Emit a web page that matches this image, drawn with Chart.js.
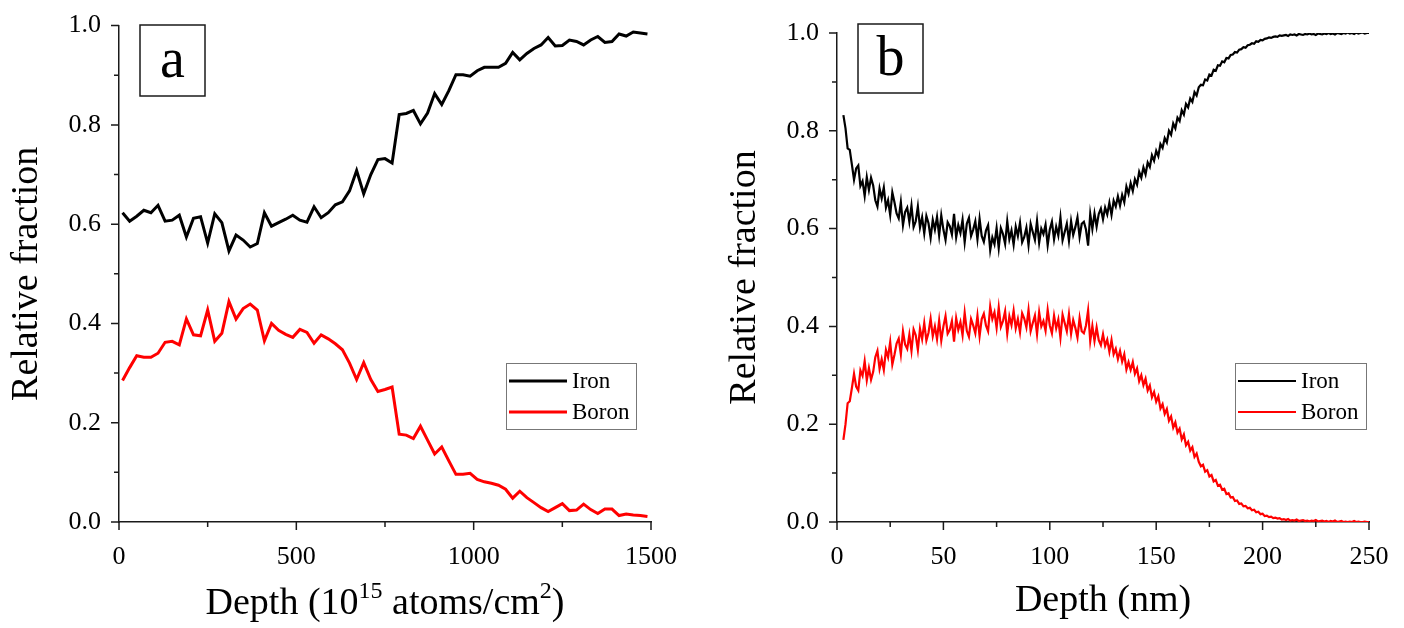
<!DOCTYPE html>
<html>
<head>
<meta charset="utf-8">
<script src="https://cdn.jsdelivr.net/npm/chart.js@4.4.1/dist/chart.umd.min.js"></script>
<style>
  html, body { margin: 0; padding: 0; background: #fff; }
  #wrap { position: relative; width: 1404px; height: 628px; }
  .panel { position: absolute; top: 0; width: 702px; height: 628px; }
</style>
</head>
<body>
<div id="wrap">
  <div class="panel" style="left:0"><canvas id="chartA"></canvas></div>
  <div class="panel" style="left:702px"><canvas id="chartB"></canvas></div>
</div>
<script>

// panel a : depth in 10^15 atoms/cm2
var depthA = [10, 30, 50, 70, 90, 110, 130, 150, 170, 190, 210, 230, 250, 270, 290, 310, 330, 350, 370, 390,
    410, 430, 450, 470, 490, 510, 530, 550, 570, 590, 610, 630, 650, 670, 690, 710, 730, 750, 770, 790,
    810, 830, 850, 870, 890, 910, 930, 950, 970, 990, 1010, 1030, 1050, 1070, 1090, 1110, 1130, 1150, 1170, 1190,
    1210, 1230, 1250, 1270, 1290, 1310, 1330, 1350, 1370, 1390, 1410, 1430, 1450, 1470, 1490];

var ironA = [0.623, 0.606, 0.616, 0.628, 0.623, 0.638, 0.606, 0.608, 0.618, 0.574,
    0.612, 0.615, 0.562, 0.621, 0.603, 0.546, 0.578, 0.568, 0.554, 0.561,
    0.623, 0.596, 0.603, 0.610, 0.618, 0.608, 0.604, 0.635, 0.613, 0.623,
    0.639, 0.645, 0.667, 0.708, 0.661, 0.700, 0.730, 0.732, 0.723, 0.821,
    0.823, 0.829, 0.802, 0.824, 0.863, 0.841, 0.869, 0.901, 0.901, 0.898,
    0.909, 0.916, 0.916, 0.916, 0.924, 0.946, 0.931, 0.944, 0.954, 0.961,
    0.976, 0.959, 0.960, 0.971, 0.968, 0.961, 0.971, 0.978, 0.966, 0.968,
    0.983, 0.979, 0.987, 0.985, 0.983];

var boronA = [0.285, 0.311, 0.335, 0.332, 0.332, 0.340, 0.362, 0.364, 0.357, 0.409,
    0.377, 0.375, 0.427, 0.364, 0.380, 0.444, 0.409, 0.430, 0.439, 0.427,
    0.365, 0.400, 0.386, 0.378, 0.372, 0.388, 0.382, 0.360, 0.377, 0.369,
    0.359, 0.347, 0.320, 0.287, 0.321, 0.287, 0.263, 0.267, 0.272, 0.177,
    0.175, 0.168, 0.193, 0.165, 0.137, 0.151, 0.123, 0.096, 0.096, 0.098,
    0.086, 0.081, 0.078, 0.074, 0.066, 0.048, 0.062, 0.049, 0.039, 0.029,
    0.021, 0.029, 0.037, 0.023, 0.024, 0.036, 0.025, 0.017, 0.026, 0.026,
    0.013, 0.016, 0.014, 0.013, 0.011];

// panel b : depth in nm
var depthB = [3, 4, 5, 6, 7, 8, 9, 10, 11, 12,
    13, 14, 15, 16, 17, 18, 19, 20, 21, 22,
    23, 24, 25, 26, 27, 28, 29, 30, 31, 32,
    33, 34, 35, 36, 37, 38, 39, 40, 41, 42,
    43, 44, 45, 46, 47, 48, 49, 50, 51, 52,
    53, 54, 55, 56, 57, 58, 59, 60, 61, 62,
    63, 64, 65, 66, 67, 68, 69, 70, 71, 72,
    73, 74, 75, 76, 77, 78, 79, 80, 81, 82,
    83, 84, 85, 86, 87, 88, 89, 90, 91, 92,
    93, 94, 95, 96, 97, 98, 99, 100, 101, 102,
    103, 104, 105, 106, 107, 108, 109, 110, 111, 112,
    113, 114, 115, 116, 117, 118, 119, 120, 121, 122,
    123, 124, 125, 126, 127, 128, 129, 130, 131, 132,
    133, 134, 135, 136, 137, 138, 139, 140, 141, 142,
    143, 144, 145, 146, 147, 148, 149, 150, 151, 152,
    153, 154, 155, 156, 157, 158, 159, 160, 161, 162,
    163, 164, 165, 166, 167, 168, 169, 170, 171, 172,
    173, 174, 175, 176, 177, 178, 179, 180, 181, 182,
    183, 184, 185, 186, 187, 188, 189, 190, 191, 192,
    193, 194, 195, 196, 197, 198, 199, 200, 201, 202,
    203, 204, 205, 206, 207, 208, 209, 210, 211, 212,
    213, 214, 215, 216, 217, 218, 219, 220, 221, 222,
    223, 224, 225, 226, 227, 228, 229, 230, 231, 232,
    233, 234, 235, 236, 237, 238, 239, 240, 241, 242,
    243, 244, 245, 246, 247, 248, 249, 250];

var ironB = [0.832, 0.805, 0.764, 0.761, 0.731, 0.700, 0.723, 0.729, 0.687, 0.697,
    0.667, 0.705, 0.679, 0.704, 0.688, 0.658, 0.645, 0.682, 0.662, 0.684,
    0.643, 0.658, 0.628, 0.674, 0.654, 0.631, 0.621, 0.654, 0.607, 0.634,
    0.643, 0.614, 0.647, 0.603, 0.615, 0.645, 0.602, 0.623, 0.590, 0.626,
    0.611, 0.581, 0.618, 0.598, 0.624, 0.586, 0.627, 0.598, 0.577, 0.613,
    0.605, 0.588, 0.630, 0.582, 0.607, 0.591, 0.618, 0.572, 0.610, 0.622,
    0.585, 0.598, 0.615, 0.578, 0.620, 0.585, 0.573, 0.596, 0.607, 0.556,
    0.582, 0.568, 0.601, 0.560, 0.601, 0.589, 0.569, 0.615, 0.578, 0.596,
    0.567, 0.604, 0.585, 0.612, 0.572, 0.583, 0.602, 0.566, 0.610, 0.593,
    0.577, 0.616, 0.571, 0.600, 0.589, 0.608, 0.566, 0.598, 0.614, 0.578,
    0.604, 0.586, 0.623, 0.576, 0.593, 0.610, 0.575, 0.615, 0.587, 0.603,
    0.623, 0.583, 0.610, 0.614, 0.598, 0.565, 0.630, 0.599, 0.631, 0.604,
    0.630, 0.641, 0.619, 0.643, 0.629, 0.653, 0.628, 0.657, 0.645, 0.666,
    0.647, 0.669, 0.654, 0.686, 0.671, 0.693, 0.677, 0.701, 0.690, 0.716,
    0.704, 0.725, 0.711, 0.735, 0.726, 0.750, 0.739, 0.759, 0.748, 0.773,
    0.765, 0.785, 0.776, 0.800, 0.792, 0.815, 0.805, 0.827, 0.820, 0.842,
    0.833, 0.855, 0.848, 0.866, 0.859, 0.879, 0.872, 0.889, 0.894, 0.893,
    0.905, 0.903, 0.915, 0.913, 0.925, 0.923, 0.934, 0.933, 0.942, 0.940,
    0.949, 0.948, 0.955, 0.956, 0.961, 0.960, 0.966, 0.967, 0.971, 0.970,
    0.975, 0.976, 0.979, 0.978, 0.983, 0.982, 0.986, 0.985, 0.988, 0.989,
    0.991, 0.990, 0.992, 0.993, 0.992, 0.995, 0.994, 0.995, 0.996, 0.994,
    0.997, 0.996, 0.997, 0.995, 0.998, 0.997, 0.996, 0.998, 0.997, 0.999,
    0.997, 0.998, 0.996, 0.999, 0.998, 0.997, 0.999, 0.998, 1.000, 0.998,
    0.999, 0.997, 1.000, 0.999, 0.998, 1.000, 0.999, 1.001, 0.999, 1.000,
    0.998, 1.001, 0.999, 1.000, 1.001, 0.999, 1.000, 1.000];

var boronB = [0.168, 0.200, 0.243, 0.247, 0.274, 0.303, 0.277, 0.269, 0.310, 0.299,
    0.329, 0.290, 0.315, 0.291, 0.307, 0.337, 0.350, 0.313, 0.333, 0.311,
    0.352, 0.337, 0.368, 0.322, 0.342, 0.365, 0.375, 0.343, 0.390, 0.363,
    0.354, 0.383, 0.350, 0.394, 0.382, 0.352, 0.395, 0.374, 0.407, 0.371,
    0.387, 0.416, 0.380, 0.400, 0.374, 0.412, 0.371, 0.400, 0.421, 0.385,
    0.393, 0.411, 0.369, 0.417, 0.393, 0.409, 0.382, 0.428, 0.391, 0.379,
    0.415, 0.402, 0.386, 0.422, 0.380, 0.415, 0.426, 0.402, 0.390, 0.441,
    0.415, 0.429, 0.397, 0.439, 0.399, 0.411, 0.431, 0.385, 0.421, 0.403,
    0.432, 0.396, 0.415, 0.388, 0.427, 0.416, 0.398, 0.434, 0.390, 0.407,
    0.422, 0.384, 0.429, 0.400, 0.411, 0.391, 0.434, 0.402, 0.386, 0.422,
    0.396, 0.414, 0.377, 0.424, 0.407, 0.390, 0.425, 0.385, 0.413, 0.397,
    0.377, 0.417, 0.390, 0.386, 0.402, 0.433, 0.370, 0.401, 0.370, 0.398,
    0.372, 0.362, 0.384, 0.360, 0.373, 0.348, 0.372, 0.343, 0.354, 0.333,
    0.350, 0.328, 0.343, 0.312, 0.327, 0.311, 0.327, 0.303, 0.314, 0.288,
    0.300, 0.280, 0.293, 0.269, 0.279, 0.255, 0.266, 0.246, 0.257, 0.232,
    0.241, 0.221, 0.231, 0.207, 0.216, 0.193, 0.204, 0.183, 0.191, 0.169,
    0.179, 0.157, 0.164, 0.146, 0.153, 0.133, 0.140, 0.123, 0.114, 0.117,
    0.103, 0.106, 0.093, 0.096, 0.083, 0.086, 0.074, 0.076, 0.066, 0.068,
    0.057, 0.059, 0.050, 0.051, 0.043, 0.044, 0.037, 0.038, 0.032, 0.033,
    0.028, 0.029, 0.024, 0.025, 0.020, 0.021, 0.016, 0.017, 0.012, 0.013,
    0.010, 0.011, 0.008, 0.009, 0.007, 0.008, 0.005, 0.006, 0.004, 0.006,
    0.003, 0.004, 0.003, 0.005, 0.002, 0.003, 0.004, 0.002, 0.003, 0.001,
    0.003, 0.002, 0.004, 0.001, 0.002, 0.003, 0.001, 0.002, 0.000, 0.002,
    0.001, 0.003, 0.000, 0.001, 0.002, 0.000, 0.001, 0.000, 0.001, 0.000,
    0.002, 0.000, 0.001, 0.000, 0.000, 0.001, 0.000, 0.000];

var serif = "'Times New Roman', 'Liberation Serif', serif";
var axisColor = '#1a1a1a';

function points(xs, ys) {
    return xs.map(function (x, i) { return { x: x, y: ys[i] }; });
}

// minor/major ticks, panel tag, legend box and superscript title
var decor = {
    id: 'decor',
    afterDraw: function (chart, args, o) {
        var ctx = chart.ctx, area = chart.chartArea;
        var xs = chart.scales.x, ys = chart.scales.y;
        ctx.save();

        ctx.strokeStyle = axisColor;
        ctx.lineWidth = 1.5;
        ctx.beginPath();
        var nx = Math.round((xs.max - xs.min) / o.xMinor);
        for (var i = 0; i <= nx; i++) {
            var px = xs.getPixelForValue(xs.min + i * o.xMinor);
            ctx.moveTo(px, area.bottom);
            ctx.lineTo(px, area.bottom + (i % 2 === 0 ? 8 : 5));
        }
        var ny = Math.round((ys.max - ys.min) / o.yMinor);
        for (var j = 0; j <= ny; j++) {
            var py = ys.getPixelForValue(ys.min + j * o.yMinor);
            ctx.moveTo(area.left, py);
            ctx.lineTo(area.left - (j % 2 === 0 ? 8 : 5), py);
        }
        ctx.stroke();

        // panel tag
        var t = o.tag;
        ctx.lineWidth = 1.5;
        ctx.strokeRect(t.x, t.y, t.w, t.h);
        ctx.fillStyle = '#000';
        ctx.font = '56px ' + serif;
        ctx.textAlign = 'center';
        ctx.textBaseline = 'middle';
        ctx.fillText(t.text, t.x + t.w / 2, t.y + t.h / 2 + 2);

        // legend
        var L = o.legend;
        ctx.lineWidth = 1;
        ctx.strokeStyle = '#777';
        ctx.strokeRect(L.x + 0.5, L.y + 0.5, L.w, L.h);
        ctx.font = '23px ' + serif;
        ctx.textAlign = 'left';
        chart.data.datasets.forEach(function (ds, k) {
            var ly = L.y + 18 + k * 31;
            ctx.strokeStyle = ds.borderColor;
            ctx.lineWidth = L.lineWidth;
            ctx.beginPath();
            ctx.moveTo(L.x + 3, ly);
            ctx.lineTo(L.x + 61, ly);
            ctx.stroke();
            ctx.fillStyle = '#000';
            ctx.fillText(ds.label, L.x + 66, ly + 1);
        });

        // x title with superscripts
        if (o.xTitle) {
            var parts = o.xTitle;
            var total = 0;
            parts.forEach(function (p) {
                ctx.font = p.size + 'px ' + serif;
                p.w = ctx.measureText(p.text).width;
                total += p.w;
            });
            var cx = (area.left + area.right) / 2 - total / 2;
            var cy = 604;
            parts.forEach(function (p) {
                ctx.font = p.size + 'px ' + serif;
                ctx.fillText(p.text, cx, cy - (p.up || 0));
                cx += p.w;
            });
        }
        ctx.restore();
    }
};

function makeChart(id, cfg) {
    return new Chart(document.getElementById(id).getContext('2d'), {
        type: 'line',
        data: {
            datasets: [{
                label: 'Iron',
                data: points(cfg.depth, cfg.iron),
                borderColor: '#000000',
                borderWidth: cfg.lw,
                pointRadius: 0,
                tension: 0
            }, {
                label: 'Boron',
                data: points(cfg.depth, cfg.boron),
                borderColor: '#ff0000',
                borderWidth: cfg.lw,
                pointRadius: 0,
                tension: 0
            }]
        },
        options: {
            responsive: true,
            maintainAspectRatio: false,
            animation: false,
            layout: { padding: { left: 0, top: cfg.top, right: cfg.right, bottom: 0 } },
            plugins: {
                legend: { display: false },
                tooltip: { enabled: false },
                decor: cfg.decor
            },
            scales: {
                x: {
                    type: 'linear',
                    min: 0,
                    max: cfg.xMax,
                    afterFit: function (s) { s.height = 106; },
                    grid: { display: false },
                    border: { display: true, color: axisColor, width: 1.5 },
                    ticks: {
                        stepSize: cfg.xStep,
                        padding: 12,
                        color: '#000',
                        font: { family: serif, size: 26 },
                        maxRotation: 0,
                        callback: function (v) { return String(v); }
                    },
                    title: {
                        display: cfg.xTitle !== null,
                        text: cfg.xTitle || '',
                        color: '#000',
                        font: { family: serif, size: 38 },
                        padding: { top: 0, bottom: 4 }
                    }
                },
                y: {
                    min: 0,
                    max: 1,
                    afterFit: function (s) { s.width = cfg.yWidth; },
                    grid: { display: false },
                    border: { display: true, color: axisColor, width: 1.5 },
                    ticks: {
                        stepSize: 0.2,
                        padding: 10,
                        color: '#000',
                        font: { family: serif, size: 26 },
                        callback: function (v) { return v.toFixed(1); }
                    },
                    title: {
                        display: true,
                        text: 'Relative fraction',
                        color: '#000',
                        font: { family: serif, size: 38 },
                        padding: { top: cfg.yTitlePad, bottom: 0 }
                    }
                }
            }
        },
        plugins: [decor]
    });
}

makeChart('chartA', {
    depth: depthA, iron: ironA, boron: boronA, lw: 3,
    top: 24, right: 51, yWidth: 119, yTitlePad: 4,
    xMax: 1500, xStep: 500, xTitle: null,
    decor: {
        xMinor: 250, yMinor: 0.1,
        tag: { text: 'a', x: 140, y: 25, w: 65, h: 71 },
        legend: { x: 506, y: 363, w: 130, h: 66, lineWidth: 3 },
        xTitle: [
            { text: 'Depth (10', size: 38 },
            { text: '15', size: 24, up: 12 },
            { text: ' atoms/cm', size: 38 },
            { text: '2', size: 24, up: 12 },
            { text: ')', size: 38 }
        ]
    }
});

makeChart('chartB', {
    depth: depthB, iron: ironB, boron: boronB, lw: 2.2,
    top: 33, right: 35, yWidth: 135, yTitlePad: 20,
    xMax: 250, xStep: 50, xTitle: 'Depth (nm)',
    decor: {
        xMinor: 25, yMinor: 0.1,
        tag: { text: 'b', x: 156, y: 24, w: 65, h: 69 },
        legend: { x: 533, y: 363, w: 131, h: 66, lineWidth: 2 }
    }
});
</script>
</body>
</html>
